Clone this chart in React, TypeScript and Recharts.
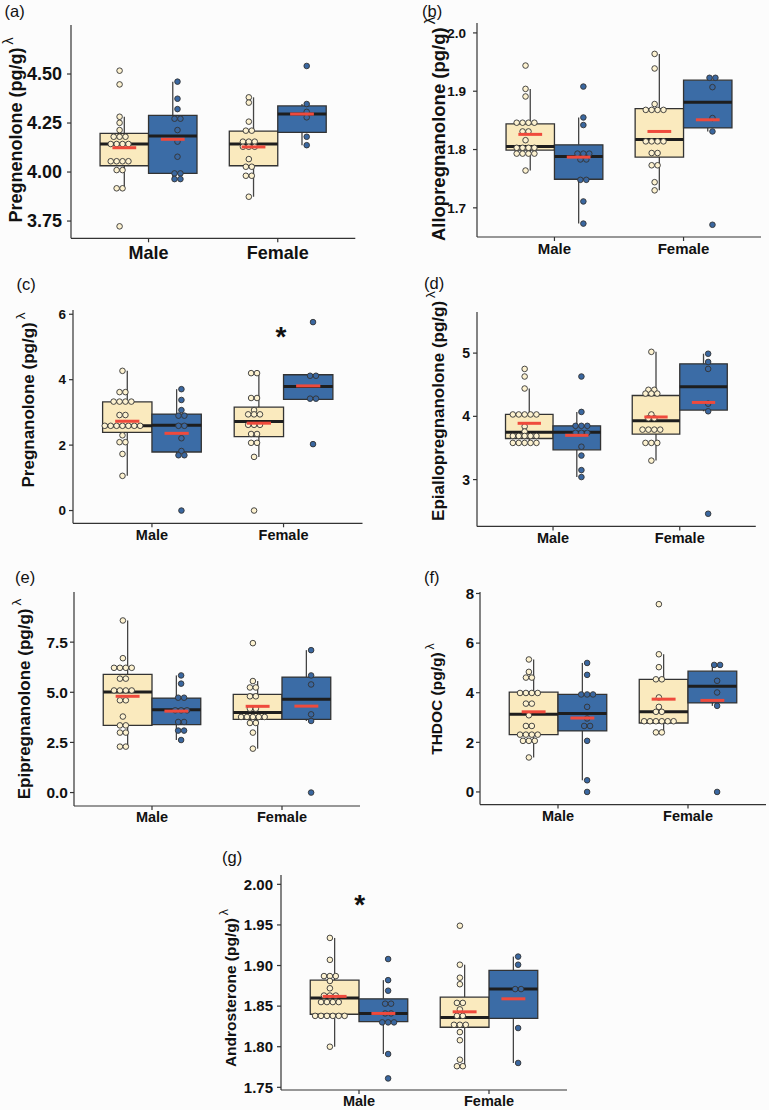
import React from "react";
import { ComposedChart, XAxis, YAxis, Scatter, ReferenceArea, ReferenceLine } from "recharts";

const FONT = '"Liberation Sans", Arial, Helvetica, sans-serif';
const TAN_BOX = "#faeabe";
const TAN_DOT = "#fdf2d0";
const BLUE_BOX = "#3b6ca6";
const BLUE_DOT = "#3a67a0";
const EDGE = "#333333";
const MEAN_RED = "#ef4a3c";

const sexLabels = ["Male", "Female"];
// group order in every array: Male tan, Male blue, Female tan, Female blue
const groupSex = [1, 1, 2, 2];
const groupSide = [-1, 1, -1, 1];

// box stats: [lower whisker, q1, median, q3, upper whisker, mean]
const pregnenoloneBox = [
  [3.917, 4.032, 4.143, 4.197, 4.282, 4.124],
  [3.964, 3.993, 4.184, 4.289, 4.461, 4.167],
  [3.874, 4.032, 4.143, 4.209, 4.381, 4.128],
  [4.137, 4.202, 4.296, 4.337, 4.347, 4.296],
];
const pregnenoloneDots = [
  [4.517, 4.447, 4.282, 4.251, 4.214, 4.18, 4.18, 4.18, 4.143, 4.143, 4.143, 4.143, 4.055, 4.055, 4.055, 4.055, 4.01, 4.01, 3.917, 3.917, 3.723],
  [4.461, 4.374, 4.321, 4.272, 4.272, 4.214, 4.155, 4.078, 3.993, 3.993, 3.964, 3.964],
  [4.381, 4.354, 4.257, 4.211, 4.211, 4.155, 4.155, 4.155, 4.129, 4.129, 4.129, 4.066, 4.027, 4.027, 3.981, 3.981, 3.874],
  [4.541, 4.347, 4.307, 4.279, 4.18, 4.137],
];

const allopregnanoloneBox = [
  [1.764, 1.799, 1.805, 1.844, 1.904, 1.826],
  [1.673, 1.749, 1.788, 1.808, 1.855, 1.787],
  [1.73, 1.787, 1.817, 1.87, 1.964, 1.831],
  [1.831, 1.837, 1.881, 1.919, 1.923, 1.851],
];
const allopregnanoloneDots = [
  [1.944, 1.904, 1.891, 1.846, 1.846, 1.846, 1.846, 1.831, 1.831, 1.816, 1.803, 1.803, 1.803, 1.803, 1.793, 1.793, 1.793, 1.793, 1.764],
  [1.908, 1.855, 1.842, 1.793, 1.793, 1.793, 1.783, 1.783, 1.748, 1.748, 1.711, 1.673],
  [1.964, 1.939, 1.878, 1.868, 1.868, 1.868, 1.868, 1.814, 1.814, 1.814, 1.814, 1.794, 1.794, 1.773, 1.773, 1.744, 1.73],
  [1.923, 1.923, 1.907, 1.854, 1.831, 1.671],
];

const pregnanoloneBox = [
  [1.06, 2.39, 2.59, 3.32, 4.27, 2.73],
  [1.69, 1.79, 2.61, 2.95, 3.71, 2.36],
  [1.64, 2.26, 2.72, 3.16, 4.2, 2.67],
  [3.4, 3.4, 3.79, 4.15, 4.15, 3.81],
];
const pregnanoloneDots = [
  [4.27, 3.62, 3.62, 3.33, 3.33, 3.33, 3.33, 2.92, 2.92, 2.59, 2.59, 2.59, 2.59, 2.59, 2.59, 2.59, 2.3, 2.09, 2.09, 1.73, 1.06],
  [3.71, 3.38, 3.07, 2.9, 2.9, 2.59, 2.59, 2.21, 1.82, 1.69, 1.69, 0],
  [4.2, 4.2, 3.44, 3.44, 3.07, 2.94, 2.94, 2.94, 2.62, 2.62, 2.62, 2.34, 2.34, 2.07, 2.07, 1.64, 0],
  [5.76, 4.12, 4.12, 3.42, 3.42, 2.03],
];

const epiallopregnanoloneBox = [
  [3.58, 3.65, 3.75, 4.03, 4.44, 3.89],
  [3.04, 3.47, 3.75, 3.85, 4.07, 3.7],
  [3.3, 3.72, 3.93, 4.33, 5.02, 3.99],
  [4.08, 4.1, 4.47, 4.83, 4.99, 4.22],
];
const epiallopregnanoloneDots = [
  [4.75, 4.63, 4.44, 4.03, 4.03, 4.03, 4.03, 4.03, 3.84, 3.76, 3.69, 3.69, 3.69, 3.69, 3.69, 3.58, 3.58, 3.58, 3.58, 3.58],
  [4.63, 4.07, 3.85, 3.85, 3.85, 3.74, 3.74, 3.74, 3.52, 3.38, 3.15, 3.04],
  [5.02, 4.42, 4.42, 4.36, 4.36, 4.36, 4.03, 3.97, 3.97, 3.79, 3.79, 3.79, 3.79, 3.58, 3.58, 3.58, 3.3],
  [4.99, 4.86, 4.75, 4.2, 4.08, 2.46],
];

const epipregnanoloneBox = [
  [2.29, 3.35, 5.01, 5.89, 8.58, 4.8],
  [2.62, 3.39, 4.13, 4.71, 5.84, 4.06],
  [2.19, 3.65, 3.99, 4.9, 5.56, 4.3],
  [3.57, 3.65, 4.65, 5.76, 7.1, 4.31],
];
const epipregnanoloneDots = [
  [8.58, 6.7, 6.22, 6.22, 6.22, 6.22, 5.68, 5.68, 5.09, 5.09, 5.09, 5.09, 4.6, 4.6, 3.79, 3.35, 3.35, 2.99, 2.99, 2.29, 2.29],
  [5.84, 5.43, 4.73, 4.73, 4.1, 4.1, 4.1, 3.52, 3.52, 3.09, 3.09, 2.62],
  [7.45, 5.56, 5.24, 5.24, 4.8, 4.8, 4.18, 4.18, 3.77, 3.77, 3.77, 3.77, 3.77, 3.47, 3.47, 2.99, 2.19],
  [7.1, 5.84, 5.39, 3.9, 3.57, 0],
];

const thdocBox = [
  [1.39, 2.31, 3.13, 4.02, 5.34, 3.23],
  [0.47, 2.46, 3.16, 3.93, 5.2, 2.98],
  [2.4, 2.78, 3.23, 4.54, 5.55, 3.74],
  [3.47, 3.59, 4.26, 4.87, 5.12, 3.69],
];
const thdocDots = [
  [5.34, 4.84, 4.61, 4.61, 3.99, 3.99, 3.99, 3.99, 3.56, 3.56, 3.09, 2.66, 2.66, 2.31, 2.31, 2.31, 2.31, 2.06, 2.06, 2.06, 1.39],
  [5.2, 4.72, 3.93, 3.93, 3.93, 3.43, 2.96, 2.66, 2.66, 2.06, 0.47, 0],
  [7.57, 5.55, 5.03, 4.54, 4.54, 3.81, 3.43, 3.23, 3.23, 2.85, 2.85, 2.85, 2.85, 2.85, 2.85, 2.4, 2.4],
  [5.12, 5.12, 4.48, 4.01, 3.47, 0],
];

const androsteroneBox = [
  [1.8, 1.84, 1.86, 1.882, 1.934, 1.862],
  [1.791, 1.831, 1.841, 1.859, 1.882, 1.841],
  [1.776, 1.824, 1.836, 1.861, 1.901, 1.843],
  [1.78, 1.835, 1.871, 1.894, 1.911, 1.859],
];
const androsteroneDots = [
  [1.934, 1.907, 1.887, 1.887, 1.887, 1.881, 1.872, 1.863, 1.863, 1.863, 1.855, 1.855, 1.855, 1.855, 1.838, 1.838, 1.838, 1.838, 1.838, 1.838, 1.8],
  [1.908, 1.882, 1.869, 1.853, 1.853, 1.841, 1.841, 1.83, 1.83, 1.83, 1.791, 1.761],
  [1.949, 1.901, 1.885, 1.877, 1.854, 1.854, 1.846, 1.838, 1.838, 1.827, 1.827, 1.827, 1.818, 1.808, 1.784, 1.776, 1.776],
  [1.911, 1.901, 1.871, 1.871, 1.823, 1.78],
];

const pregnanoloneStar = [{ x: 1.98, y: 5.52 }];
const androsteroneStar = [{ x: 1.005, y: 1.983 }];

type PanelSpec = {
  letter: string;
  title: string;
  plot: [number, number, number, number];
  domain: [number, number];
  ticks: number[];
  decimals: number;
  tickFont: number;
  catFont: number;
  yGap: number;
  xGap: number;
  labelFont: number;
  labelPos: [number, number];
  letterPos: [number, number];
  boxes: number[][];
  dots: number[][];
  star?: { x: number; y: number }[];
};

const panels: PanelSpec[] = [
  {
    letter: "(a)", title: "Pregnenolone (pg/g)", plot: [70.7, 25, 355, 238.3],
    domain: [3.662, 4.75], ticks: [3.75, 4.0, 4.25, 4.5], decimals: 2,
    tickFont: 18, catFont: 18, yGap: 5, xGap: 4, labelFont: 18,
    labelPos: [16, 130], letterPos: [4.5, 16.6],
    boxes: pregnenoloneBox, dots: pregnenoloneDots,
  },
  {
    letter: "(b)", title: "Allopregnanolone (pg/g)", plot: [476.7, 23.3, 760.7, 237.3],
    domain: [1.65, 2.017], ticks: [1.7, 1.8, 1.9, 2.0], decimals: 1,
    tickFont: 13.5, catFont: 15, yGap: 7, xGap: 2, labelFont: 18.5,
    labelPos: [438, 129], letterPos: [422, 16.6],
    boxes: allopregnanoloneBox, dots: allopregnanoloneDots,
  },
  {
    letter: "(c)", title: "Pregnanolone (pg/g)", plot: [73.3, 310, 362.8, 523.3],
    domain: [-0.39, 6.13], ticks: [0, 2, 4, 6], decimals: 0,
    tickFont: 13.5, catFont: 14.5, yGap: 3, xGap: 2, labelFont: 17,
    labelPos: [28, 400], letterPos: [16.5, 290],
    boxes: pregnanoloneBox, dots: pregnanoloneDots, star: pregnanoloneStar,
  },
  {
    letter: "(d)", title: "Epiallopregnanolone (pg/g)", plot: [476.7, 312.3, 755.5, 526.7],
    domain: [2.26, 5.65], ticks: [3, 4, 5], decimals: 0,
    tickFont: 14, catFont: 14.5, yGap: 3, xGap: 2, labelFont: 17,
    labelPos: [438, 406], letterPos: [424, 289],
    boxes: epiallopregnanoloneBox, dots: epiallopregnanoloneDots,
  },
  {
    letter: "(e)", title: "Epipregnanolone (pg/g)", plot: [74, 591.7, 360, 805.7],
    domain: [-0.67, 10.0], ticks: [0, 2.5, 5, 7.5], decimals: 1,
    tickFont: 15.5, catFont: 14.5, yGap: 2, xGap: 2, labelFont: 17,
    labelPos: [24, 699], letterPos: [15, 583],
    boxes: epipregnanoloneBox, dots: epipregnanoloneDots,
  },
  {
    letter: "(f)", title: "THDOC (pg/g)", plot: [480, 591.7, 766, 804.3],
    domain: [-0.51, 8.06], ticks: [0, 2, 4, 6, 8], decimals: 0,
    tickFont: 15, catFont: 14.5, yGap: 2, xGap: 2, labelFont: 15.5,
    labelPos: [436.5, 699], letterPos: [424, 583],
    boxes: thdocBox, dots: thdocDots,
  },
  {
    letter: "(g)", title: "Androsterone (pg/g)", plot: [280.7, 875, 566.7, 1090],
    domain: [1.7467, 2.0115], ticks: [1.75, 1.8, 1.85, 1.9, 1.95, 2.0], decimals: 2,
    tickFont: 15, catFont: 14.5, yGap: 4, xGap: 2, labelFont: 15.5,
    labelPos: [230.5, 988], letterPos: [222, 863],
    boxes: androsteroneBox, dots: androsteroneDots, star: androsteroneStar,
  },
];

const BOX_W = 0.375;
const DOT_SHIFT = 0.224;
const MEAN_HALF = 0.092;
const DOT_R = 2.8;

// stack equal values side by side, like a centred dotplot
function dotRows(values: number[], center: number, step: number) {
  const counts = new Map<number, number>();
  values.forEach((v) => counts.set(v, (counts.get(v) || 0) + 1));
  const seen = new Map<number, number>();
  return values.map((v) => {
    const n = counts.get(v) || 1;
    const k = seen.get(v) || 0;
    seen.set(v, k + 1);
    return { x: center + (k - (n - 1) / 2) * step, y: v };
  });
}

function Panel({ p }: { p: PanelSpec }) {
  const [pl, pt, pr, pb] = p.plot;
  const padL = 70, padT = 14, padR = 8, padB = 34;
  const left = pl - padL;
  const top = pt - padT;
  const width = pr + padR - left;
  const height = pb + padB - top;
  const unitPx = (pr - pl) / 2.2;
  const step = (DOT_R * 2 + 0.3) / unitPx;
  const axisStyle = { stroke: EDGE, strokeWidth: 1.2 };

  return (
    <div style={{ position: "absolute", left, top }}>
      <ComposedChart width={width} height={height} margin={{ top: padT, right: padR, bottom: 0, left: 0 }}>
        <XAxis
          type="number"
          dataKey="x"
          domain={[0.4, 2.6]}
          ticks={[1, 2]}
          interval={0}
          allowDataOverflow
          height={padB}
          tickFormatter={(v: number) => sexLabels[Math.round(v) - 1]}
          axisLine={axisStyle}
          tickLine={axisStyle}
          tickSize={4}
          tickMargin={p.xGap}
          tick={{ fill: "#111", fontSize: p.catFont, fontWeight: 700, fontFamily: FONT }}
        />
        <YAxis
          type="number"
          dataKey="y"
          domain={p.domain}
          ticks={p.ticks}
          interval={0}
          allowDataOverflow
          width={padL}
          tickFormatter={(v: number) => v.toFixed(p.decimals)}
          axisLine={axisStyle}
          tickLine={axisStyle}
          tickSize={4}
          tickMargin={p.yGap}
          tick={{ fill: "#111", fontSize: p.tickFont, fontWeight: 700, fontFamily: FONT }}
        />
        {p.boxes.map((b, i) => {
          const c = groupSex[i] + (groupSide[i] * BOX_W) / 2;
          return (
            <ReferenceLine
              key={`wl${i}`}
              segment={[{ x: c, y: b[0] }, { x: c, y: b[1] }]}
              stroke="#444"
              strokeWidth={1.3}
              ifOverflow="visible"
              zIndex={90}
            />
          );
        })}
        {p.boxes.map((b, i) => {
          const c = groupSex[i] + (groupSide[i] * BOX_W) / 2;
          return (
            <ReferenceLine
              key={`wh${i}`}
              segment={[{ x: c, y: b[3] }, { x: c, y: b[4] }]}
              stroke="#444"
              strokeWidth={1.3}
              ifOverflow="visible"
              zIndex={90}
            />
          );
        })}
        {p.boxes.map((b, i) => {
          const c = groupSex[i] + (groupSide[i] * BOX_W) / 2;
          return (
            <ReferenceArea
              key={`bx${i}`}
              x1={c - BOX_W / 2}
              x2={c + BOX_W / 2}
              y1={b[1]}
              y2={b[3]}
              fill={groupSide[i] < 0 ? TAN_BOX : BLUE_BOX}
              fillOpacity={1}
              stroke={EDGE}
              strokeWidth={1.3}
              ifOverflow="visible"
              zIndex={100}
            />
          );
        })}
        {p.boxes.map((b, i) => {
          const c = groupSex[i] + (groupSide[i] * BOX_W) / 2;
          return (
            <ReferenceLine
              key={`md${i}`}
              segment={[{ x: c - BOX_W / 2, y: b[2] }, { x: c + BOX_W / 2, y: b[2] }]}
              stroke="#1e1e1e"
              strokeWidth={3}
              ifOverflow="visible"
              zIndex={110}
            />
          );
        })}
        {p.dots.map((vals, i) => (
          <Scatter
            key={`dt${i}`}
            data={dotRows(vals, groupSex[i] + groupSide[i] * DOT_SHIFT, step)}
            isAnimationActive={false}
            shape={(s: any) => (
              <circle
                cx={s.cx}
                cy={s.cy}
                r={DOT_R}
                fill={groupSide[i] < 0 ? TAN_DOT : BLUE_DOT}
                stroke={EDGE}
                strokeWidth={0.9}
              />
            )}
          />
        ))}
        {p.boxes.map((b, i) => {
          const c = groupSex[i] + (groupSide[i] * BOX_W) / 2;
          return (
            <ReferenceLine
              key={`mn${i}`}
              segment={[{ x: c - MEAN_HALF, y: b[5] }, { x: c + MEAN_HALF, y: b[5] }]}
              stroke={MEAN_RED}
              strokeWidth={3}
              ifOverflow="visible"
              zIndex={650}
            />
          );
        })}
        {p.star && (
          <Scatter
            data={p.star}
            isAnimationActive={false}
            shape={(s: any) => (
              <text
                x={s.cx}
                y={s.cy + 28 * 0.57}
                textAnchor="middle"
                fontSize={28}
                fontWeight={700}
                fontFamily={FONT}
                fill="#111"
              >
                *
              </text>
            )}
          />
        )}
      </ComposedChart>
    </div>
  );
}

export default function App() {
  return (
    <div
      style={{
        position: "absolute",
        left: 0,
        top: 0,
        width: 769,
        height: 1110,
        background: "#fcfcfc",
        overflow: "hidden",
        fontFamily: FONT,
      }}
    >
      {panels.map((p) => (
        <Panel key={p.letter} p={p} />
      ))}
      <svg
        width={769}
        height={1110}
        style={{ position: "absolute", left: 0, top: 0, pointerEvents: "none" }}
      >
        {panels.map((p) => (
          <g key={p.letter}>
            <text x={p.letterPos[0]} y={p.letterPos[1]} fontSize={16.5} fontFamily={FONT} fill="#111">
              {p.letter}
            </text>
            <text
              transform={`translate(${p.labelPos[0]},${p.labelPos[1]}) rotate(-90)`}
              textAnchor="middle"
              dominantBaseline="central"
              fontSize={p.labelFont}
              fontWeight={700}
              fontFamily={FONT}
              fill="#111"
            >
              {p.title}
              <tspan fontWeight={400} fontSize={p.labelFont * 0.8} dx={3} dy={-p.labelFont * 0.45}>
                λ
              </tspan>
            </text>
          </g>
        ))}
      </svg>
    </div>
  );
}
